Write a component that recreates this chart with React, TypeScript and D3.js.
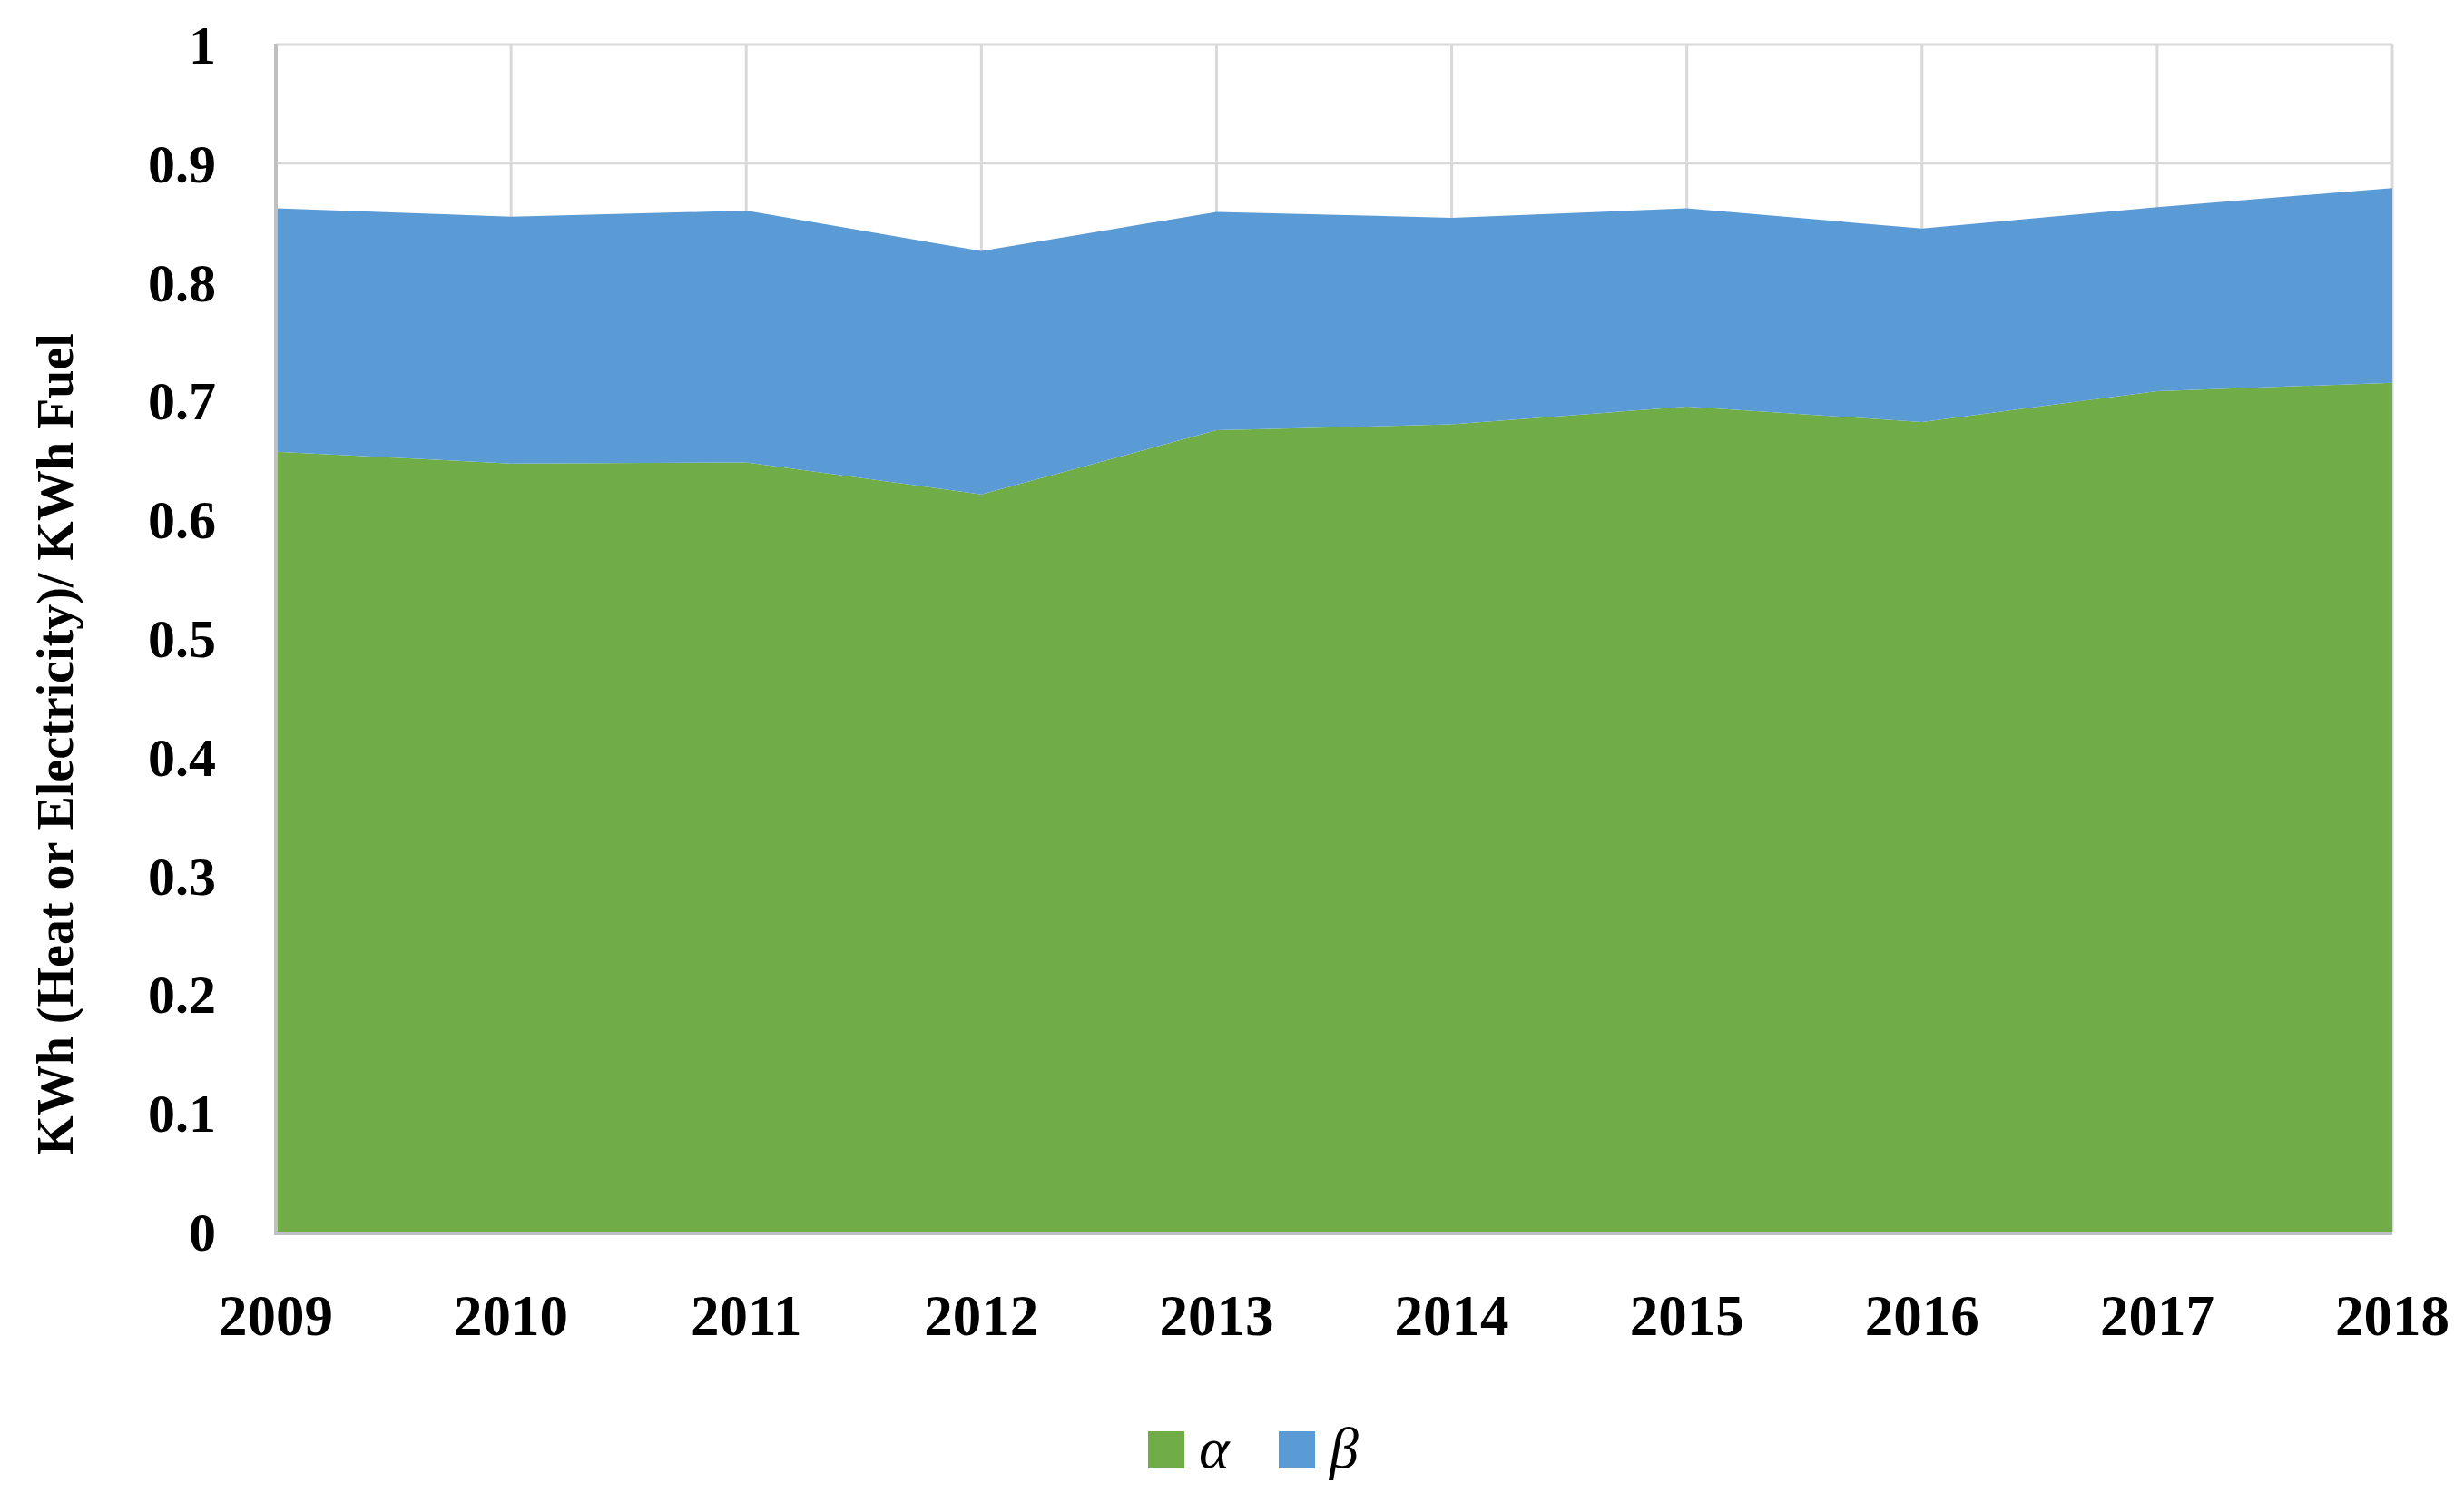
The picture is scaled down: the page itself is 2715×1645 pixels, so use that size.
// Stacked area chart of alpha / beta energy ratios per year
import React, { useEffect, useRef } from 'react';
import * as d3 from 'd3';

const years = [2009, 2010, 2011, 2012, 2013, 2014, 2015, 2016, 2017, 2018];
const alphaValues = [0.657, 0.647, 0.648, 0.621, 0.675, 0.680, 0.695, 0.682, 0.708, 0.715];
const betaValues = [0.205, 0.208, 0.212, 0.205, 0.184, 0.174, 0.167, 0.163, 0.155, 0.164];
const yTicks = [0, 0.1, 0.2, 0.3, 0.4, 0.5, 0.6, 0.7, 0.8, 0.9, 1];
const seriesNames = ['α', 'β'];
const seriesColors = ['#70AD47', '#5B9BD5'];
const yAxisTitle = 'KWh (Heat or Electricity)/ KWh Fuel';

const W = 2715;
const H = 1645;
const FONT = '"Liberation Serif", "DejaVu Serif", serif';

export default function App() {
    const chartRef = useRef<SVGSVGElement>(null);

    useEffect(() => {
        if (!chartRef.current) return;

        // Clear previous chart
        d3.select(chartRef.current).selectAll('*').remove();

        const margin = { top: 49, right: 79, bottom: 288, left: 304 };
        const width = W - margin.left - margin.right;
        const height = H - margin.top - margin.bottom;

        const svg = d3.select(chartRef.current)
            .attr('width', W)
            .attr('height', H);

        svg.append('rect')
            .attr('width', W)
            .attr('height', H)
            .attr('fill', '#ffffff');

        const g = svg.append('g')
            .attr('transform', `translate(${margin.left},${margin.top})`);

        // Scales
        const xScale = d3.scalePoint<number>()
            .domain(years)
            .range([0, width]);

        const yScale = d3.scaleLinear()
            .domain([0, 1])
            .range([height, 0]);

        // Grid lines
        g.append('g')
            .selectAll('line')
            .data(yTicks)
            .enter()
            .append('line')
            .attr('x1', 0)
            .attr('x2', width)
            .attr('y1', d => yScale(d))
            .attr('y2', d => yScale(d))
            .attr('stroke', '#d9d9d9')
            .attr('stroke-width', 3);

        g.append('g')
            .selectAll('line')
            .data(years)
            .enter()
            .append('line')
            .attr('x1', d => xScale(d)!)
            .attr('x2', d => xScale(d)!)
            .attr('y1', 0)
            .attr('y2', height)
            .attr('stroke', '#d9d9d9')
            .attr('stroke-width', 3);

        // Stack data
        const rows = years.map((year, i) => ({ year, a: alphaValues[i], b: betaValues[i] }));
        const stacked = d3.stack<any>().keys(['a', 'b'])(rows);

        const area = d3.area<any>()
            .x(d => xScale(d.data.year)!)
            .y0(d => yScale(d[0]))
            .y1(d => yScale(d[1]));

        g.selectAll('.layer')
            .data(stacked)
            .enter()
            .append('path')
            .attr('class', 'layer')
            .attr('fill', (_, i) => seriesColors[i])
            .attr('d', area);

        // Axis lines
        g.append('line')
            .attr('x1', 0).attr('x2', 0)
            .attr('y1', 0).attr('y2', height)
            .attr('stroke', '#bfbfbf')
            .attr('stroke-width', 4);

        g.append('line')
            .attr('x1', -2).attr('x2', width)
            .attr('y1', height + 2).attr('y2', height + 2)
            .attr('stroke', '#bfbfbf')
            .attr('stroke-width', 4);

        // Y tick labels
        g.append('g')
            .selectAll('text')
            .data(yTicks)
            .enter()
            .append('text')
            .attr('x', -66)
            .attr('y', d => yScale(d))
            .attr('dy', '0.35em')
            .attr('text-anchor', 'end')
            .attr('font-family', FONT)
            .attr('font-weight', 'bold')
            .attr('font-size', 60)
            .attr('fill', '#000')
            .text(d => d3.format('~g')(d));

        // X tick labels
        g.append('g')
            .selectAll('text')
            .data(years)
            .enter()
            .append('text')
            .attr('x', d => xScale(d)!)
            .attr('y', height + 114)
            .attr('text-anchor', 'middle')
            .attr('font-family', FONT)
            .attr('font-weight', 'bold')
            .attr('font-size', 63)
            .attr('fill', '#000')
            .text(d => d);

        // Y-axis title
        svg.append('text')
            .attr('transform', `translate(80,820) rotate(-90)`)
            .attr('text-anchor', 'middle')
            .attr('font-family', FONT)
            .attr('font-weight', 'bold')
            .attr('font-size', 56)
            .attr('fill', '#000')
            .text(yAxisTitle);

        // Legend
        const legendX = [1265, 1409];
        const legend = svg.append('g');
        seriesNames.forEach((name, i) => {
            legend.append('rect')
                .attr('x', legendX[i])
                .attr('y', 1577)
                .attr('width', 40)
                .attr('height', 41)
                .attr('fill', seriesColors[i]);
            legend.append('text')
                .attr('x', legendX[i] + 56)
                .attr('y', 1617)
                .attr('font-family', FONT)
                .attr('font-style', 'italic')
                .attr('font-size', 64)
                .attr('fill', '#000')
                .text(name);
        });
    }, []);

    return (
        <svg
            ref={chartRef}
            style={{ position: 'absolute', left: 0, top: 0, display: 'block' }}
        />
    );
}
